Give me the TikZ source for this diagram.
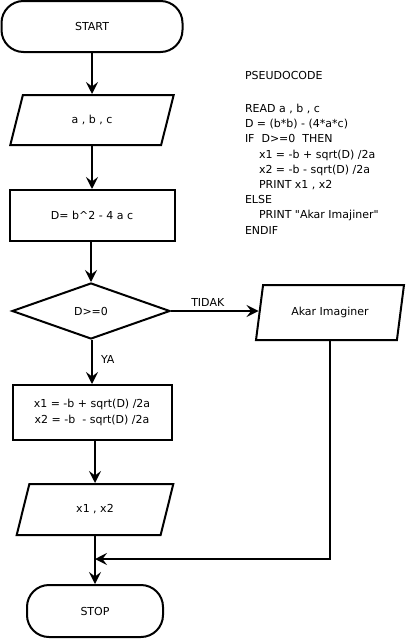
\documentclass[tikz,border=0pt]{standalone}
\usepackage{fontspec}
\setmainfont{DejaVu Sans}[Ligatures=TeXOff]
\usetikzlibrary{shapes.geometric,arrows.meta}
\begin{document}
\begin{tikzpicture}[x=1pt,y=-1pt,
  font=\fontsize{11pt}{15.2pt}\selectfont,
  line width=2pt,
  term/.style={draw, rectangle, rounded corners=22pt, inner sep=0pt, align=center},
  proc/.style={draw, rectangle, inner sep=0pt, align=center},
  io/.style={draw, trapezium, trapezium left angle=69, trapezium right angle=111,
             trapezium stretches=true, inner sep=0pt, align=center},
  decis/.style={draw, diamond, inner sep=0pt, aspect=2.8},
  arr/.style={-{Stealth[length=12pt,width=12pt,inset=4.5pt]}},
  code/.style={anchor=base west, inner sep=0pt},
  lbl/.style={inner sep=0pt}]
\useasboundingbox (0,0) rectangle (407,640);

\node[term, minimum width=181pt, minimum height=51pt] (start) at (92,26.5) {START};
\node[io, minimum width=164pt, minimum height=50pt] (abc) at (92,120) {a , b , c};
\node[proc, minimum width=165pt, minimum height=51pt] (dbox) at (92,215.5) {D= b\textasciicircum 2 - 4 a c};
\node[decis, minimum width=158pt, minimum height=56pt] (dec) at (91,311) {D>=0};
\node[io, minimum width=149pt, minimum height=55pt] (akar) at (330,312.5) {Akar Imaginer};
\node[proc, minimum width=159pt, minimum height=55pt, font=\fontsize{11pt}{16pt}\selectfont] (calc) at (92,412.5)
  {x1 = -b + sqrt(D) /2a\\x2 = -b\ \ - sqrt(D) /2a};
\node[io, minimum width=157pt, minimum height=51pt] (out) at (95,509.5) {x1 , x2};
\node[term, minimum width=136pt, minimum height=52pt] (stop) at (95,611) {STOP};
\coordinate (m) at (95,559);

\draw[arr] (abc.north |- start.south) -- (abc.north);
\draw[arr] (dbox.north |- abc.south) -- (dbox.north);
\draw[arr] (dec.north |- dbox.south) -- (dec.north);
\draw[arr] (calc.north |- dec.south) -- node[lbl, pos=0.45, right=8pt] (ya) {YA} (calc.north);
\draw[arr] (dec.east) -- node[lbl, pos=0.42, above=4pt] (tidak) {TIDAK} (dec.east -| akar.left side);
\draw[arr] (out.north |- calc.south) -- (out.north);
\draw[arr] (stop.north |- out.south) -- (stop.north);
\draw[arr] (akar.south) -- (akar.south |- m) -- (m);

\node[code] (p0) at (244,79.5) {PSEUDOCODE};
\node[code] (p1) at (244,112.4) {READ a , b , c};
\node[code] (p2) at (244,127.6) {D = (b*b) - (4*a*c)};
\node[code] (p3) at (244,142.8) {IF\ \ D>=0\ \ THEN};
\node[code] (p4) at (258,158.0) {x1 = -b + sqrt(D) /2a};
\node[code] (p5) at (258,173.2) {x2 = -b - sqrt(D) /2a};
\node[code] (p6) at (258,188.4) {PRINT x1 , x2};
\node[code] (p7) at (244,203.6) {ELSE};
\node[code] (p8) at (258,218.8) {PRINT "Akar Imajiner"};
\node[code] (p9) at (244,234.0) {ENDIF};
\end{tikzpicture}
\end{document}
